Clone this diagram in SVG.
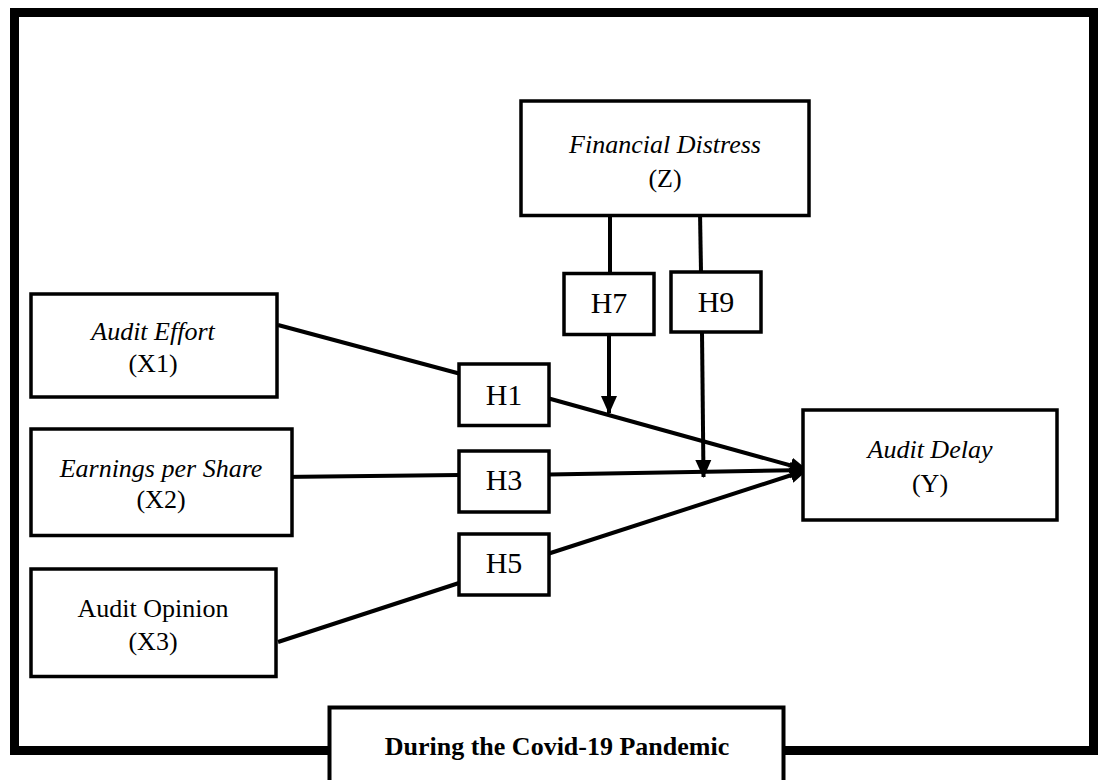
<svg xmlns="http://www.w3.org/2000/svg" width="1101" height="780" viewBox="0 0 1101 780">
<defs>
<style>
.box{fill:#fff;stroke:#000;stroke-width:3.5}
.t{font-family:"Liberation Serif","Times New Roman",serif;font-size:26px;fill:#000;text-anchor:middle}
.i{font-style:italic}
.h{font-family:"Liberation Serif","Times New Roman",serif;font-size:30px;fill:#000;text-anchor:middle}
.c{fill:none;stroke:#000;stroke-width:4}
</style>
<marker id="ah" markerWidth="18" markerHeight="18" viewBox="0 0 18 18" refX="17" refY="9" orient="auto" markerUnits="userSpaceOnUse">
<path d="M0,1 L18,9 L0,17 Z" fill="#000"/>
</marker>
</defs>
<rect width="1101" height="780" fill="#fff"/>
<rect id="frame" x="14.5" y="12.5" width="1079" height="738" fill="none" stroke="#000" stroke-width="9"/>

<g id="connectors">
<line class="c" x1="278" y1="325" x2="459" y2="373.5"/>
<line class="c" x1="549" y1="398.5" x2="807" y2="470" marker-end="url(#ah)"/>
<line class="c" x1="280" y1="477" x2="459" y2="475"/>
<line class="c" x1="549" y1="474.5" x2="807" y2="470" marker-end="url(#ah)"/>
<line class="c" x1="278" y1="642" x2="459" y2="583"/>
<line class="c" x1="549" y1="553.5" x2="807" y2="470" marker-end="url(#ah)"/>
<line class="c" x1="610" y1="217" x2="610" y2="273"/>
<line class="c" x1="609" y1="335" x2="609" y2="413" marker-end="url(#ah)"/>
<line class="c" x1="700" y1="212" x2="701" y2="272"/>
<line class="c" x1="702" y1="332" x2="703.5" y2="477" marker-end="url(#ah)"/>
</g>

<g id="z">
<rect class="box" x="521" y="101" width="288" height="114.5"/>
<text class="t i" x="665" y="153">Financial Distress</text>
<text class="t" x="665" y="187">(Z)</text>
</g>
<g id="x1">
<rect class="box" x="31" y="294" width="246" height="103"/>
<text class="t i" x="153" y="340">Audit Effort</text>
<text class="t" x="153" y="372">(X1)</text>
</g>
<g id="x2">
<rect class="box" x="31" y="429" width="261" height="106.5"/>
<text class="t i" x="161" y="477">Earnings per Share</text>
<text class="t" x="161" y="508">(X2)</text>
</g>
<g id="x3">
<rect class="box" x="31" y="569" width="245" height="107.5"/>
<text class="t" x="153" y="617">Audit Opinion</text>
<text class="t" x="153" y="650">(X3)</text>
</g>
<g id="y">
<rect class="box" x="803" y="410" width="254" height="110"/>
<text class="t i" x="930" y="458">Audit Delay</text>
<text class="t" x="930" y="492">(Y)</text>
</g>
<g id="h7">
<rect class="box" x="564" y="273.5" width="90" height="61"/>
<text class="h" x="609" y="313">H7</text>
</g>
<g id="h9">
<rect class="box" x="671" y="272" width="90" height="60"/>
<text class="h" x="716" y="312">H9</text>
</g>
<g id="h1">
<rect class="box" x="459" y="364" width="90" height="61.5"/>
<text class="h" x="504" y="405">H1</text>
</g>
<g id="h3">
<rect class="box" x="459" y="451" width="90" height="61"/>
<text class="h" x="504" y="490">H3</text>
</g>
<g id="h5">
<rect class="box" x="459" y="534" width="90" height="61"/>
<text class="h" x="504" y="573">H5</text>
</g>
<g id="period">
<rect x="329.5" y="707.5" width="454" height="90" fill="#fff" stroke="#000" stroke-width="4"/>
<text class="t" x="557" y="755" font-weight="bold" font-size="27">During the Covid-19 Pandemic</text>
</g>
</svg>
